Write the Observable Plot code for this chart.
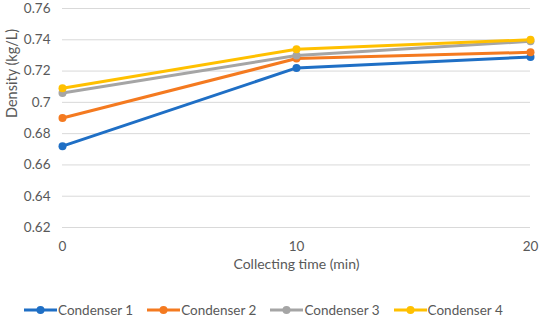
<!DOCTYPE html>
<html><head><meta charset="utf-8">
<script src="https://cdn.jsdelivr.net/npm/d3@7"></script>
<script src="https://cdn.jsdelivr.net/npm/@observablehq/plot@0.6"></script>
<style>
body{margin:0;background:#fff;font-family:Lato,"Open Sans",sans-serif;}
#chart svg{display:block;}
#legend{display:flex;gap:14px;padding-left:24px;margin-top:10px;font-size:13.5px;color:#595959;line-height:16px;}
.item{display:flex;align-items:center;gap:1px;}
</style></head><body>
<div id="chart"></div>
<div id="legend"></div>
<script>
const times = [0, 10, 20];
const seriesNames = ["Condenser 1", "Condenser 2", "Condenser 3", "Condenser 4"];
const condenser1 = [0.672, 0.722, 0.729];
const condenser2 = [0.690, 0.728, 0.732];
const condenser3 = [0.706, 0.730, 0.739];
const condenser4 = [0.709, 0.734, 0.740];
const colors = ["#1f6fc5", "#f47a20", "#a5a5a5", "#ffc000"];
const yTicks = [0.62, 0.64, 0.66, 0.68, 0.7, 0.72, 0.74, 0.76];
const xLabel = "Collecting time (min)";
const yLabel = "Density (kg/L)";

const allSeries = [condenser1, condenser2, condenser3, condenser4];
const data = [];
allSeries.forEach((vals, i) => vals.forEach((v, j) => data.push({series: seriesNames[i], t: times[j], v})));

const plot = Plot.plot({
  width: 540, height: 292,
  marginLeft: 62, marginRight: 10, marginTop: 8, marginBottom: 65,
  style: {fontFamily: "Lato, 'Open Sans', sans-serif", fontSize: "13px", color: "#595959", overflow: "visible"},
  x: {domain: [0, 20]},
  y: {domain: [0.62, 0.76]},
  color: {domain: seriesNames, range: colors},
  marks: [
    Plot.gridY(yTicks, {stroke: "#d9d9d9", strokeOpacity: 1, strokeWidth: 1}),
    Plot.axisY(yTicks, {tickSize: 0, tickPadding: 12, tickFormat: d => String(+d.toFixed(2)), fontSize: 13.5, label: null}),
    Plot.axisX(times, {tickSize: 0, tickPadding: 14, fontSize: 13.5, label: null}),
    Plot.text([xLabel], {frameAnchor: "bottom", dy: 41, fontSize: 14, fill: "#595959"}),
    Plot.text([yLabel], {frameAnchor: "left", dx: -50, rotate: -90, fontSize: 14.5, fill: "#595959"}),
    Plot.line(data, {x: "t", y: "v", z: "series", stroke: "series", strokeWidth: 3}),
    Plot.dot(data, {x: "t", y: "v", fill: "series", r: 4})
  ]
});
document.getElementById("chart").appendChild(plot);

const legend = document.getElementById("legend");
seriesNames.forEach((name, i) => {
  const item = document.createElement("div");
  item.className = "item";
  item.innerHTML = `<svg width="33" height="12"><line x1="0" y1="6" x2="33" y2="6" stroke="${colors[i]}" stroke-width="3"/><circle cx="16.5" cy="6" r="4" fill="${colors[i]}"/></svg><span>${name}</span>`;
  legend.appendChild(item);
});
</script>
</body></html>
